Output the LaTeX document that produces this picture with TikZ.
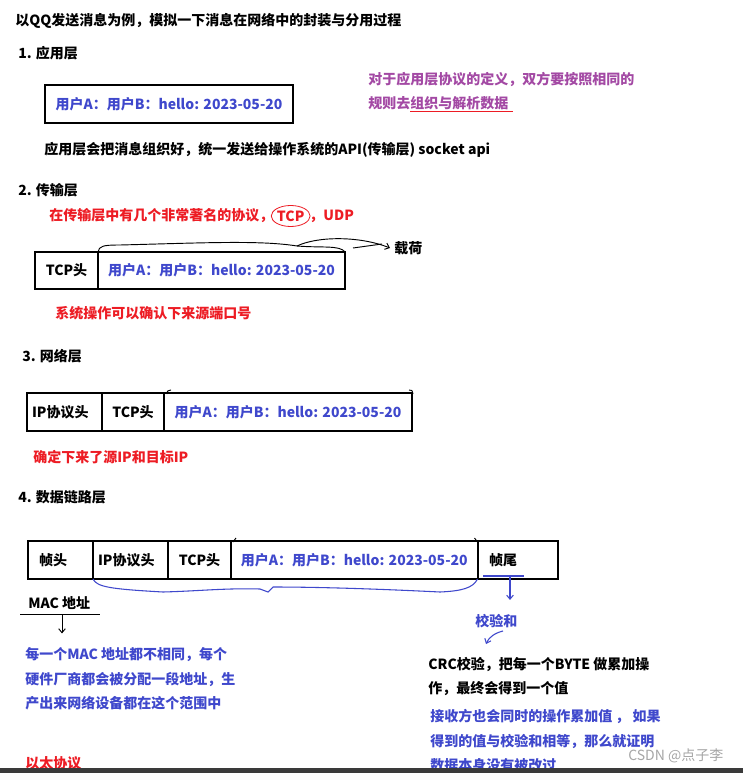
\documentclass[tikz,border=0pt]{standalone}
\usepackage{fontspec}
\setmainfont{Noto Sans CJK SC}
\usepackage{xcolor}
\usetikzlibrary{arrows.meta, positioning, shapes.geometric}

\definecolor{msred}{HTML}{ED1C24}
\definecolor{msblue}{HTML}{3F48CC}
\definecolor{mspurple}{HTML}{A349A4}
\definecolor{csdngray}{HTML}{A6A6A6}
\definecolor{barcol}{HTML}{3A3A3A}
\newcommand{\cnfont}{\fontsize{10.5pt}{18.4pt}\selectfont\bfseries}

\begin{document}
\begin{tikzpicture}[
    x=0.75pt, y=-0.75pt,
    txt/.style={anchor=west, inner sep=0pt, font=\cnfont, align=left},
    bluetxt/.style={txt, text=msblue},
    redtxt/.style={txt, text=msred},
    seg/.style={rectangle, draw=black, line width=1.5pt, inner sep=0pt, outer sep=0pt,
                minimum height=28.5pt, font=\cnfont, anchor=west},
    lpad/.style={text width=#1, align=left},
    pen/.style={line width=0.7pt, draw=black},
    bluepen/.style={line width=0.8pt, draw=msblue},
    arrow/.style={-{Straight Barb[length=3pt, width=5pt]}},
]
    \fill[white] (0,0) rectangle (743,773);
    \useasboundingbox (0,0) rectangle (743,773);

    \node[txt] (title) at (15,21) {以QQ发送消息为例，模拟一下消息在网络中的封装与分用过程};

    % 1. application layer
    \node[txt] (app) at (18,53) {1. 应用层};
    \node[seg, text=msblue, minimum width=186pt] (msg1) at (45,104) {用户A：用户B：hello: 2023-05-20};
    \node[txt, text=mspurple] (rule) at (368,91) {对于应用层协议的定义，双方要按照相同的\\规则去组织与解析数据};
    \draw[line width=0.75pt, msred] (410,112) -- (513,112);
    \node[txt] (api) at (44,150) {应用层会把消息组织好，统一发送给操作系统的API(传输层) socket api};

    % 2. transport layer
    \node[txt] (trans) at (18,190) {2. 传输层};
    \node[redtxt] (proto) at (49,216) {在传输层中有几个非常著名的协议，};
    \node[redtxt, ellipse, draw=msred, line width=0.6pt, minimum width=25.5pt,
          minimum height=15.75pt, right=-2pt of proto] (tcpmark) {TCP};
    \node[redtxt, right=-1pt of tcpmark] (udp) {，UDP};
    \node[seg, minimum width=47.25pt, minimum height=27.75pt] (tcp2) at (35,270.5) {TCP头};
    \node[seg, text=msblue, minimum width=185.25pt, minimum height=27.75pt, right=0pt of tcp2] (pay2) {用户A：用户B：hello: 2023-05-20};
    \node[txt, inner xsep=3pt] (load) at (390,248) {载荷};
    \draw[pen] (pay2.north west) .. controls (99,246) and (103,245) .. (120,245)
        .. controls (200,243) and (260,240) .. (297,246)
        .. controls (322,248) and (340,245) .. (pay2.north east);
    \draw[pen, arrow] (297,246) .. controls (318,236) and (360,236) .. (load.west);
    \draw[pen] (353,248) -- (382,244);
    \node[redtxt] (port) at (55,313) {系统操作可以确认下来源端口号};

    % 3. network layer
    \node[txt] (net) at (22,356) {3. 网络层};
    \node[seg, minimum width=56.25pt, lpad=48.75pt] (ip3) at (27,412) {IP协议头};
    \node[seg, minimum width=46.5pt, right=0pt of ip3] (tcp3) {TCP头};
    \node[seg, text=msblue, minimum width=186pt, right=0pt of tcp3] (pay3) {用户A：用户B：hello: 2023-05-20};
    \draw[pen] (167,394) .. controls (167,391) .. (171,390);
    \draw[pen] (409,390) .. controls (412,390) .. (413,394);
    \node[redtxt] (ipnote) at (33,457) {确定下来了源IP和目标IP};

    % 4. data link layer
    \node[txt] (link) at (18,497) {4. 数据链路层};
    \node[seg, minimum width=48.75pt, lpad=32.25pt] (fh4) at (28,560) {帧头};
    \node[seg, minimum width=56.25pt, lpad=48.75pt, right=0pt of fh4] (ip4) {IP协议头};
    \node[seg, minimum width=47.25pt, right=0pt of ip4] (tcp4) {TCP头};
    \node[seg, text=msblue, minimum width=184.875pt, right=0pt of tcp4] (pay4) {用户A：用户B：hello: 2023-05-20};
    \node[seg, minimum width=60.375pt, lpad=43.125pt, right=0pt of pay4] (ft4) {帧尾};
    \draw[pen] (233,542) -- (236,538);
    \draw[pen] (474.5,538) -- (477.5,542);
    \draw[bluepen] (ip4.south west) .. controls (97,587) and (110,589) .. (163,592)
        .. controls (200,591) and (225,588) .. (260,589) -- (268,592) -- (273,587)
        .. controls (330,587) and (400,590) .. (440,592)
        .. controls (462,591) and (473,588) .. (pay4.south east);

    % Annotations
    \draw[bluepen] (483,576) -- (524,576);
    \coordinate (chk) at (510,577);
    \node[bluetxt] (jyh) at (475,621) {校验和};
    \draw[bluepen, arrow, shorten >=10.5pt] (chk) -- (chk |- jyh.north);
    \draw[bluepen, arrow] (503,631) .. controls (495,633) and (489,637) .. (486,644);

    \node[txt] (mac) at (28,603) {MAC 地址};
    \draw[pen] (20,614) -- (100,614);
    \coordinate (macp) at (62,614);
    \node[bluetxt] (macinfo) at (25,679) {每一个MAC 地址都不相同，每个\\硬件厂商都会被分配一段地址，生\\产出来网络设备都在这个范围中};
    \draw[pen, arrow, shorten >=10.5pt] (macp) -- (macp |- macinfo.north);

    \node[txt] (crc) at (428,676.5) {CRC校验，把每一个BYTE 做累加操\\作，最终会得到一个值};
    \node[bluetxt] (recv) at (430,741) {接收方也会同时的操作累加值 ， 如果\\得到的值与校验和相等，那么就证明\\数据本身没有被改过};
    \node[redtxt] (eth) at (25,763) {以太协议};
    \node[txt, font=\fontsize{10.5pt}{12pt}\selectfont, text=csdngray] (csdn) at (628,756) {CSDN @点子李};

    \fill[barcol] (0,768) rectangle (743,773);
\end{tikzpicture}
\end{document}
